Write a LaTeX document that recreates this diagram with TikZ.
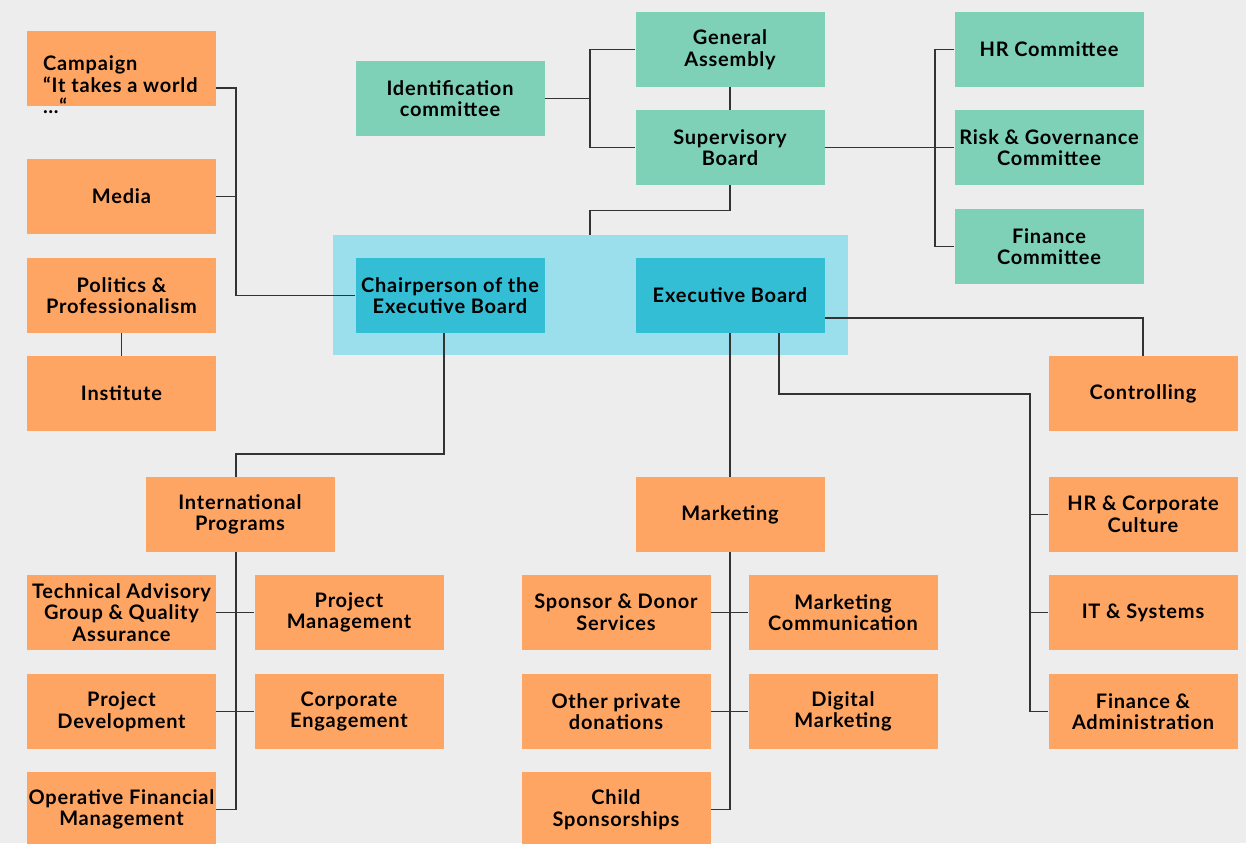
\documentclass[tikz,border=0pt]{standalone}
\usepackage{fontspec}
\setmainfont{Lato}[UprightFont=* Bold, LetterSpace=4]
\usetikzlibrary{calc}
\definecolor{bgc}{HTML}{EDEDED}
\definecolor{orng}{HTML}{FFA564}
\definecolor{grn}{HTML}{7ED1B6}
\definecolor{blu}{HTML}{33BED6}
\definecolor{lblu}{HTML}{9BDFEC}
\definecolor{lnc}{HTML}{333333}
\tikzset{
  box/.style={rectangle, minimum width=189pt, minimum height=75pt, inner sep=0pt, align=center, font=\fontsize{20}{21.5}\selectfont, text=black},
  obox/.style={box, fill=orng},
  gbox/.style={box, fill=grn},
  bbox/.style={box, fill=blu},
  conn/.style={draw=lnc, line width=1.3pt},
}
\begin{document}
\begin{tikzpicture}[x=1pt,y=-1pt]
\fill[bgc] (0,0) rectangle (1246,843);
\useasboundingbox (0,0) rectangle (1246,843);
\clip (0,0) rectangle (1246,843);
% band
\node[fill=lblu, minimum width=515pt, minimum height=120pt, inner sep=0pt] (band) at (590.5,295) {};
% nodes
\node[obox] (campaign) at (121.5,68.5) {};
\node[anchor=north west, align=left, inner sep=0pt, font=\fontsize{20}{21.5}\selectfont] (camptext) at (43,55.5) {Campaign\\“It takes a world\\…“};
\node[obox] (media) at (121.5,196.5) {Media};
\node[obox] (politics) at (121.5,295.5) {Politics \&\\Professionalism};
\node[obox] (institute) at (121.5,393.5) {Institute};
\node[gbox] (ident) at (450,98.5) {Identification\\committee};
\node[gbox] (ga) at (730,49.5) {General\\Assembly};
\node[gbox] (sb) at (730,147.5) {Supervisory\\Board};
\node[gbox] (hrc) at (1049,49.5) {HR Committee};
\node[gbox] (risk) at (1049,147.5) {Risk \& Governance\\Committee};
\node[gbox] (finc) at (1049,246.5) {Finance\\Committee};
\node[bbox] (chair) at (450,295.5) {Chairperson of the\\Executive Board};
\node[bbox] (eb) at (730,295.5) {Executive Board};
\node[obox] (controlling) at (1143,393.5) {Controlling};
\node[obox] (intl) at (240,514.5) {International\\Programs};
\node[obox] (marketing) at (730,514.5) {Marketing};
\node[obox] (hrcc) at (1143,514.5) {HR \& Corporate\\Culture};
\node[obox] (it) at (1143,612.5) {IT \& Systems};
\node[obox] (fa) at (1143,711.5) {Finance \&\\Administration};
\node[obox] (tech) at (121.5,612.5) {Technical Advisory\\Group \& Quality\\Assurance};
\node[obox] (pm) at (349,612.5) {Project\\Management};
\node[obox] (pd) at (121.5,711.5) {Project\\Development};
\node[obox] (ce) at (349,711.5) {Corporate\\Engagement};
\node[obox] (ofm) at (121.5,809.5) {Operative Financial\\Management};
\node[obox] (sds) at (616,612.5) {Sponsor \& Donor\\Services};
\node[obox] (mc) at (843,612.5) {Marketing\\Communication};
\node[obox] (opd) at (616,711.5) {Other private\\donations};
\node[obox] (dm) at (843,711.5) {Digital\\Marketing};
\node[obox] (cs) at (616,809.5) {Child\\Sponsorships};
% junction coordinates
\coordinate (lj) at (236,295.5);
\coordinate (ij) at (590,98.5);
\coordinate (cj) at (935,147.5);
\coordinate (sbj) at (590,210.5);
\coordinate (ipj) at (236,454);
\coordinate (ipe) at (236,809.5);
\coordinate (mke) at (730,809.5);
\coordinate (fj) at (1030,394);
% connectors
\draw[conn] ([yshift=-19.5pt]campaign.east) -| (lj) -- (chair.west);
\draw[conn] (media.east) -- (media.east -| lj);
\draw[conn] (politics.south) -- (institute.north);
\draw[conn] (ident.east) -- (ij);
\draw[conn] (ga.west) -| (ij) |- (sb.west);
\draw[conn] (ga.south) -- (sb.north);
\draw[conn] (sb.east) -- (risk.west);
\draw[conn] (hrc.west) -| (cj) |- (finc.west);
\draw[conn] (sb.south) |- (sbj) -- (sbj |- band.north);
\draw[conn] ([xshift=-6pt]chair.south) |- (ipj) -- (ipj |- intl.north);
\draw[conn] (ipj |- intl.south) -- (ipe) -- (ofm.east);
\draw[conn] (tech.east) -- (pm.west);
\draw[conn] (pd.east) -- (ce.west);
\draw[conn] (eb.south) -- (marketing.north);
\draw[conn] (marketing.south) -- (mke) -- (cs.east);
\draw[conn] (sds.east) -- (mc.west);
\draw[conn] (opd.east) -- (dm.west);
\draw[conn] ([yshift=-22.5pt]eb.east) -| (controlling.north);
\draw[conn] ([xshift=49pt]eb.south) |- (fj) |- (fa.west);
\draw[conn] (hrcc.west) -- (hrcc.west -| fj);
\draw[conn] (it.west) -- (it.west -| fj);
\end{tikzpicture}
\end{document}
